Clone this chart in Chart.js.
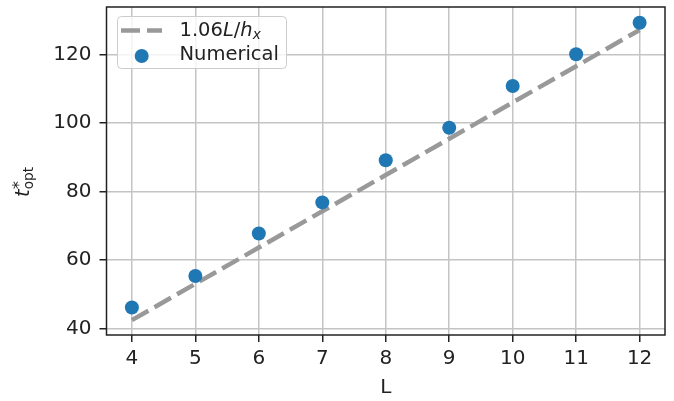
<!DOCTYPE html>
<html>
<head>
<meta charset="utf-8">
<script src="https://cdn.jsdelivr.net/npm/chart.js@4/dist/chart.umd.min.js"></script>
<style>
  html, body { margin: 0; padding: 0; background: #fff; }
  #wrap { width: 674px; height: 401px; }
</style>
</head>
<body>
<div id="wrap"><canvas id="myChart" width="674" height="401"></canvas></div>
<script>
// data
const lValues = [4, 5, 6, 7, 8, 9, 10, 11, 12];
const fitValues = [42.4, 53.0, 63.6, 74.2, 84.8, 95.4, 106.0, 116.6, 127.2];
const numericalValues = [46.1, 55.3, 67.7, 76.8, 89.1, 98.6, 110.8, 120.1, 129.3];
const xTicks = [4, 5, 6, 7, 8, 9, 10, 11, 12];
const yTicks = [40, 60, 80, 100, 120];

const FONT = "DejaVu Sans";
const FS = 19.5;
const TEXT = "#222222";
const BLUE = "#1f77b4";
const GREY = "#999999";

Chart.defaults.font.family = FONT;
Chart.defaults.font.size = FS;
Chart.defaults.color = TEXT;

// draw a run of text pieces (mathtext style) left to right
function drawRuns(ctx, runs, x, y) {
  let cx = x;
  for (const r of runs) {
    ctx.font = (r.italic ? "italic " : "") + r.size + "px '" + FONT + "'";
    ctx.fillText(r.text, cx, y + (r.dy || 0));
    if (!r.noAdvance) cx += ctx.measureText(r.text).width;
  }
}

const extras = {
  id: "extras",
  afterDatasetsDraw(chart) {
    const ctx = chart.ctx;
    ctx.save();

    // legend box
    const bx = 117.5, by = 16.5, bw = 169, bh = 52;
    ctx.beginPath();
    ctx.roundRect(bx, by, bw, bh, 4);
    ctx.fillStyle = "rgba(255,255,255,0.8)";
    ctx.fill();
    ctx.strokeStyle = "#cccccc";
    ctx.lineWidth = 1;
    ctx.stroke();

    // dashed line sample
    ctx.beginPath();
    ctx.setLineDash([19, 7]);
    ctx.lineCap = "butt";
    ctx.strokeStyle = GREY;
    ctx.lineWidth = 4.5;
    ctx.moveTo(121, 30.5);
    ctx.lineTo(162, 30.5);
    ctx.stroke();
    ctx.setLineDash([]);

    // dot sample
    ctx.beginPath();
    ctx.fillStyle = BLUE;
    ctx.arc(141.7, 56, 7, 0, Math.PI * 2);
    ctx.fill();

    ctx.fillStyle = TEXT;
    ctx.textBaseline = "alphabetic";
    ctx.textAlign = "left";
    drawRuns(ctx, [
      { text: "1.06", size: FS },
      { text: "L", size: FS, italic: true },
      { text: "/", size: FS },
      { text: "h", size: FS, italic: true },
      { text: "x", size: FS * 0.7, italic: true, dy: 3 }
    ], 179.5, 36);
    ctx.font = FS + "px '" + FONT + "'";
    ctx.fillText("Numerical", 179.5, 60);
    ctx.restore();
  },
  afterDraw(chart) {
    const ctx = chart.ctx;
    const a = chart.chartArea;
    ctx.save();
    // frame (all four spines)
    ctx.strokeStyle = TEXT;
    ctx.lineWidth = 1.5;
    ctx.strokeRect(a.left, a.top, a.right - a.left, a.bottom - a.top);

    // y title t*_opt, rotated
    ctx.translate(29, 197);
    ctx.rotate(-Math.PI / 2);
    ctx.fillStyle = TEXT;
    ctx.textBaseline = "alphabetic";
    ctx.textAlign = "left";
    drawRuns(ctx, [
      { text: "t", size: FS, italic: true },
      { text: "*", size: FS * 0.85, dy: -5, noAdvance: true },
      { text: "opt", size: FS * 0.7, dy: 4 }
    ], 0, 0);
    ctx.restore();
  }
};

const ctx = document.getElementById("myChart");
const myChart = new Chart(ctx, {
  type: "scatter",
  data: {
    datasets: [
      {
        label: "Numerical",
        data: lValues.map((l, i) => ({ x: l, y: numericalValues[i] })),
        backgroundColor: BLUE,
        borderWidth: 0,
        pointRadius: 7,
        pointHoverRadius: 7,
        order: 1
      },
      {
        type: "line",
        label: "1.06L/h_x",
        data: lValues.map((l, i) => ({ x: l, y: fitValues[i] })),
        borderColor: GREY,
        borderWidth: 4.5,
        borderDash: [19, 7],
        borderCapStyle: "butt",
        pointRadius: 0,
        fill: false,
        tension: 0,
        order: 2
      }
    ]
  },
  options: {
    responsive: false,
    animation: false,
    devicePixelRatio: 1,
    layout: { padding: { top: 6, right: 9, left: 0, bottom: 0 } },
    plugins: {
      legend: { display: false },
      tooltip: { enabled: false }
    },
    scales: {
      x: {
        type: "linear",
        min: 3.6,
        max: 12.4,
        afterBuildTicks: (scale) => { scale.ticks = xTicks.map(v => ({ value: v })); },
        afterFit: (scale) => { scale.height = 66; scale.paddingLeft = 0; scale.paddingRight = 0; },
        grid: { color: "#c4c4c4", lineWidth: 1.5, tickColor: TEXT, tickLength: 7, tickWidth: 1.5 },
        border: { display: false },
        ticks: { color: TEXT, font: { family: FONT, size: 20 }, padding: 5, maxRotation: 0 },
        title: { display: true, text: "L", color: TEXT, font: { family: FONT, size: 20 }, padding: { top: 0, bottom: 1 } }
      },
      y: {
        type: "linear",
        min: 38.05,
        max: 133.9,
        afterBuildTicks: (scale) => { scale.ticks = yTicks.map(v => ({ value: v })); },
        afterFit: (scale) => { scale.width = 106.5; scale.paddingTop = 0; scale.paddingBottom = 0; },
        grid: { color: "#c4c4c4", lineWidth: 1.5, tickColor: TEXT, tickLength: 7, tickWidth: 1.5 },
        border: { display: false },
        ticks: { color: TEXT, font: { family: FONT, size: 20 }, padding: 8 }
      }
    }
  },
  plugins: [extras]
});
</script>
</body>
</html>
